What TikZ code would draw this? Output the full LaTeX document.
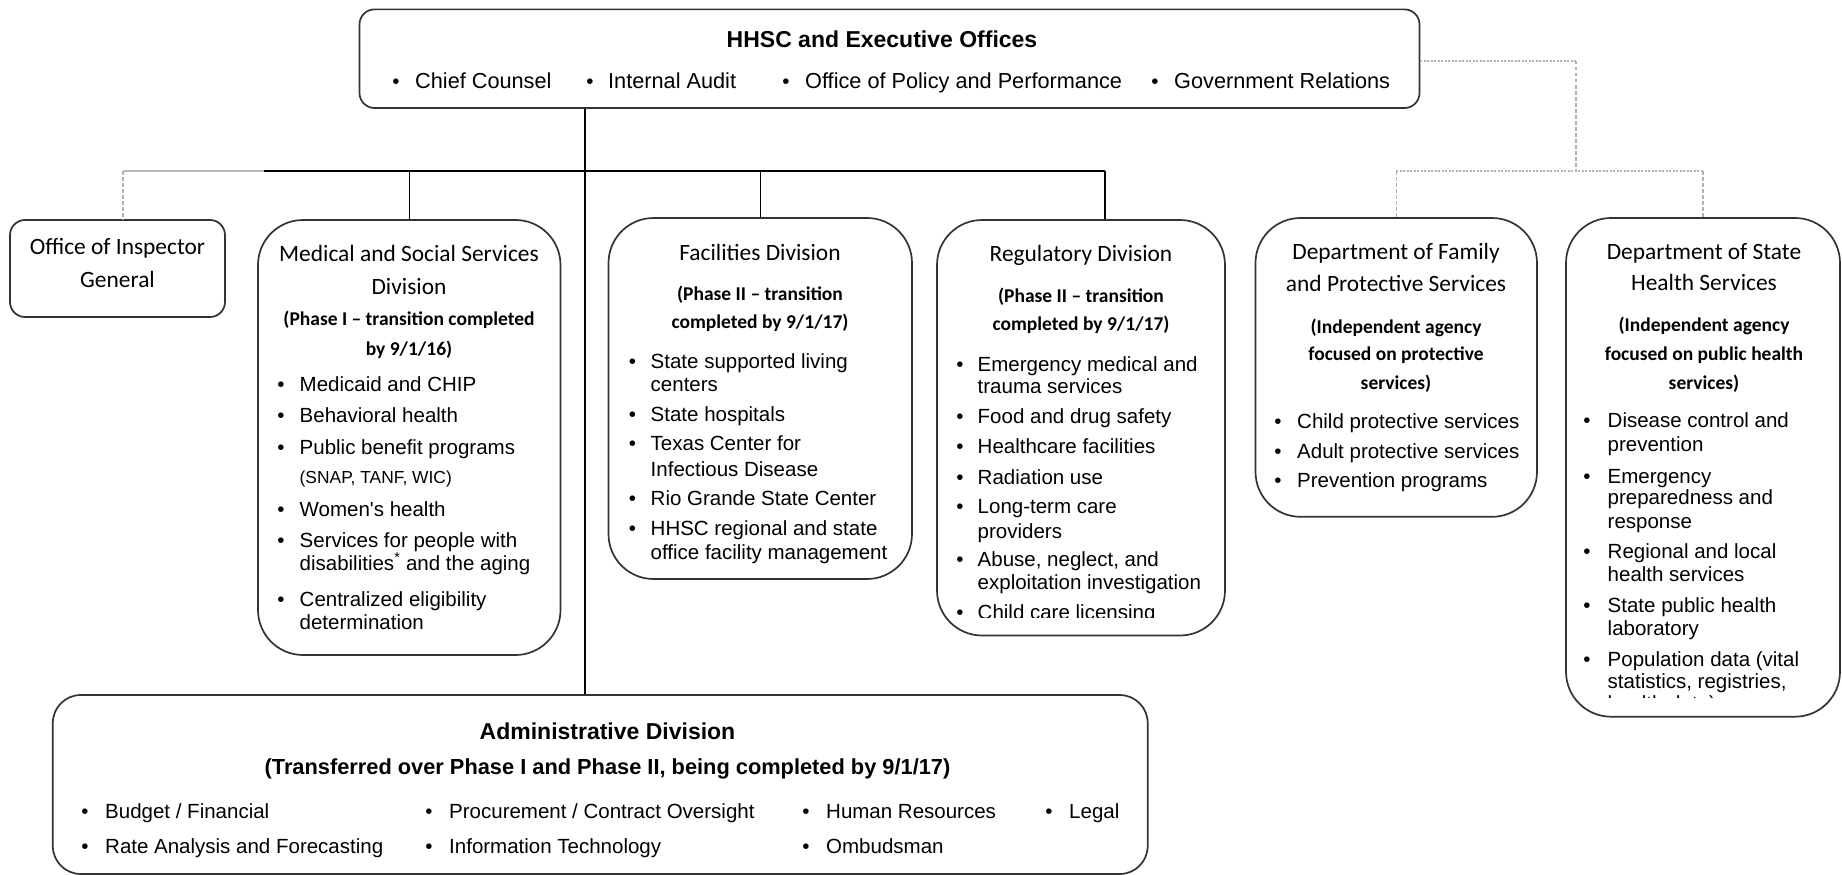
\documentclass[tikz,border=0pt]{standalone}
\usepackage{fontspec}
\setmainfont{Liberation Sans}
\newfontfamily\calibf{Carlito}
\begin{document}
\begin{tikzpicture}[x=1pt,y=-1pt,
  boxs/.style={draw=black!80, line width=1.7pt, inner sep=0pt, rounded corners=45pt},
  sbox/.style={boxs, rounded corners=15pt},
  abox/.style={boxs, rounded corners=28pt},
  conn/.style={line width=1.5pt, black},
  gsolid/.style={line width=2pt, gray!55},
  gdash/.style={line width=1.4pt, gray!60, dash pattern=on 3.5pt off 2.5pt},
  gdot/.style={line width=1.4pt, gray!60, dash pattern=on 2pt off 1.5pt},
  txt/.style={inner sep=0pt, yshift=-5.5pt},
  lt/.style={txt, anchor=mid west, font=\fontsize{20.5}{24}\selectfont},
  tlt/.style={txt, anchor=mid west, font=\fontsize{21.7}{26}\selectfont},
  bul/.style={txt, anchor=mid, font=\fontsize{20.5}{24}\selectfont},
  sml/.style={txt, anchor=mid west, font=\fontsize{17.4}{20}\selectfont},
  ttl/.style={txt, anchor=mid, font=\calibf\fontsize{23.4}{28}\selectfont},
  ph/.style={txt, anchor=mid, font=\calibf\bfseries\fontsize{19.5}{24}\selectfont},
  hb/.style={txt, anchor=mid, font=\bfseries\fontsize{23}{28}\selectfont},
  sb/.style={txt, anchor=mid, font=\bfseries\fontsize{21.8}{26}\selectfont}
]
\newcommand\bitem[5]{\node[bul] (#1b) at (#2,#4) {\textbullet}; \node[lt] (#1) at (#3,#4) {#5};}
\newcommand\titem[5]{\node[bul] (#1b) at (#2,#4) {\textbullet}; \node[tlt] (#1) at (#3,#4) {#5};}
\useasboundingbox (0,0) rectangle (1842,875);
\fill[white] (0,0) rectangle (1842,875);

% boxes
\node[sbox, minimum width=1060pt, minimum height=98.6pt] (top) at (889.5,58.7) {};
\node[sbox, minimum width=215pt, minimum height=97pt] (oig) at (117.5,268.5) {};
\node[boxs, minimum width=302.5pt, minimum height=435pt] (med) at (409.25,437.5) {};
\node[boxs, minimum width=303.5pt, minimum height=361pt] (fac) at (760.25,398.5) {};
\node[boxs, minimum width=288pt, minimum height=415.5pt] (reg) at (1081,427.75) {};
\node[boxs, minimum width=281.5pt, minimum height=298.8pt] (dfps) at (1396.25,367.4) {};
\node[boxs, minimum width=274pt, minimum height=498.7pt] (dshs) at (1703,467.35) {};
\node[abox, minimum width=1094.9pt, minimum height=179pt] (adm) at (600.25,784.5) {};

% connectors
\coordinate (hub) at (585,171);
\coordinate (hubL) at (264,171);
\coordinate (oigj) at (123,171);
\coordinate (regj) at (1105,171);
\coordinate (jr) at (1576,61);
\coordinate (jr2) at (1576,171);
\draw[conn] (top.south -| hub) -- (adm.north -| hub);
\draw[gsolid] (oigj) -- (hubL);
\draw[conn] (hubL) -- (regj);
\draw[gdash] (oigj) -- (oig.north -| oigj);
\draw[conn] (med.north |- hub) -- (med.north);
\draw[conn] (fac.north |- hub) -- (fac.north);
\draw[conn] (regj) -- (reg.north -| regj);
\draw[gdot] (top.east |- jr) -- (jr);
\draw[gdash] (jr) -- (jr2);
\draw[gdot] (dfps.north |- jr2) -- (dshs.north |- jr2);
\draw[gdash] (dfps.north |- jr2) -- (dfps.north);
\draw[gdash] (dshs.north |- jr2) -- (dshs.north);

% top box
\node[hb] (toptitle) at (882,39) {HHSC and Executive Offices};
\titem{tb1}{396}{415}{80}{Chief Counsel}
\titem{tb2}{590}{608}{80}{Internal Audit}
\titem{tb3}{786}{805}{80}{Office of Policy and Performance}
\titem{tb4}{1155}{1174}{80}{Government Relations}

% OIG
\node[ttl] (oig1) at (117.5,246) {Office of Inspector};
\node[ttl] (oig2) at (117.5,279) {General};

% Medical
\node[ttl] (m1) at (409,253) {Medical and Social Services};
\node[ttl] (m2) at (409,286) {Division};
\node[ph] (m3) at (409,317.5) {(Phase I \textendash{} transition completed};
\node[ph] (m4) at (409,347) {by 9/1/16)};
\bitem{mi1}{281}{299.5}{383}{Medicaid and CHIP}
\bitem{mi2}{281}{299.5}{414}{Behavioral health}
\bitem{mi3}{281}{299.5}{446}{Public benefit programs}
\node[sml] (mi3b2) at (299.5,475) {(SNAP, TANF, WIC)};
\bitem{mi4}{281}{299.5}{508}{Women\textquotesingle s health}
\bitem{mi5}{281}{299.5}{539}{Services for people with}
\node[lt] (mi5b2) at (299.5,562) {disabilities\textsuperscript{*} and the aging};
\bitem{mi6}{281}{299.5}{598.5}{Centralized eligibility}
\node[lt] (mi6b2) at (299.5,621.5) {determination};

% Facilities
\node[ttl] (f1) at (760,252) {Facilities Division};
\node[ph] (f2) at (760,292.5) {(Phase II \textendash{} transition};
\node[ph] (f3) at (760,320.5) {completed by 9/1/17)};
\bitem{fi1}{632.5}{650.5}{360.5}{State supported living}
\node[lt] (fi1b2) at (650.5,383) {centers};
\bitem{fi2}{632.5}{650.5}{413.5}{State hospitals}
\bitem{fi3}{632.5}{650.5}{442.5}{Texas Center for}
\node[lt] (fi3b2) at (650.5,468) {Infectious Disease};
\bitem{fi4}{632.5}{650.5}{497}{Rio Grande State Center}
\bitem{fi5}{632.5}{650.5}{527}{HHSC regional and state}
\node[lt] (fi5b2) at (650.5,551) {office facility management};

% Regulatory
\node[ttl] (r1) at (1081,253) {Regulatory Division};
\node[ph] (r2) at (1081,294.5) {(Phase II \textendash{} transition};
\node[ph] (r3) at (1081,322.5) {completed by 9/1/17)};
\bitem{ri1}{960}{977.5}{363}{Emergency medical and}
\node[lt] (ri1b2) at (977.5,385.5) {trauma services};
\bitem{ri2}{960}{977.5}{415}{Food and drug safety}
\bitem{ri3}{960}{977.5}{445.5}{Healthcare facilities}
\bitem{ri4}{960}{977.5}{476}{Radiation use}
\bitem{ri5}{960}{977.5}{505}{Long-term care}
\node[lt] (ri5b2) at (977.5,530) {providers};
\bitem{ri6}{960}{977.5}{558.5}{Abuse, neglect, and}
\node[lt] (ri6b2) at (977.5,581.5) {exploitation investigation};
\begin{scope}
\clip (937,595) rectangle (1225,617);
\bitem{ri7}{960}{977.5}{611.5}{Child care licensing}
\end{scope}

% DFPS
\node[ttl] (d1) at (1396,251.5) {Department of Family};
\node[ttl] (d2) at (1396,283) {and Protective Services};
\node[ph] (d3) at (1396,325.5) {(Independent agency};
\node[ph] (d4) at (1396,352) {focused on protective};
\node[ph] (d5) at (1396,381) {services)};
\bitem{di1}{1278}{1297}{420}{Child protective services}
\bitem{di2}{1278}{1297}{450}{Adult protective services}
\bitem{di3}{1278}{1297}{479.5}{Prevention programs}

% DSHS
\node[ttl] (s1) at (1704,251.5) {Department of State};
\node[ttl] (s2) at (1704,282) {Health Services};
\node[ph] (s3) at (1704,323.5) {(Independent agency};
\node[ph] (s4) at (1704,352.5) {focused on public health};
\node[ph] (s5) at (1704,381) {services)};
\bitem{si1}{1587}{1607.5}{419.5}{Disease control and}
\node[lt] (si1b2) at (1607.5,443) {prevention};
\bitem{si2}{1587}{1607.5}{475}{Emergency}
\node[lt] (si2b2) at (1607.5,496.5) {preparedness and};
\node[lt] (si2b3) at (1607.5,520) {response};
\bitem{si3}{1587}{1607.5}{550}{Regional and local}
\node[lt] (si3b2) at (1607.5,573) {health services};
\bitem{si4}{1587}{1607.5}{604.5}{State public health}
\node[lt] (si4b2) at (1607.5,627.5) {laboratory};
\bitem{si5}{1587}{1607.5}{658}{Population data (vital}
\node[lt] (si5b2) at (1607.5,680.5) {statistics, registries,};
\begin{scope}
\clip (1566,694) rectangle (1840,697.5);
\node[lt] (si5b3) at (1607.5,702) {health data)};
\end{scope}

% Administrative
\node[hb] (a1) at (607.5,731) {Administrative Division};
\node[sb] (a2) at (607.5,766) {(Transferred over Phase I and Phase II, being completed by 9/1/17)};
\bitem{ai1}{85}{105}{810.5}{Budget / Financial}
\bitem{ai2}{429}{449}{810.5}{Procurement / Contract Oversight}
\bitem{ai3}{806}{826}{810.5}{Human Resources}
\bitem{ai4}{1049}{1069}{810.5}{Legal}
\bitem{ai5}{85}{105}{845}{Rate Analysis and Forecasting}
\bitem{ai6}{429}{449}{845}{Information Technology}
\bitem{ai7}{806}{826}{845}{Ombudsman}
\end{tikzpicture}
\end{document}
